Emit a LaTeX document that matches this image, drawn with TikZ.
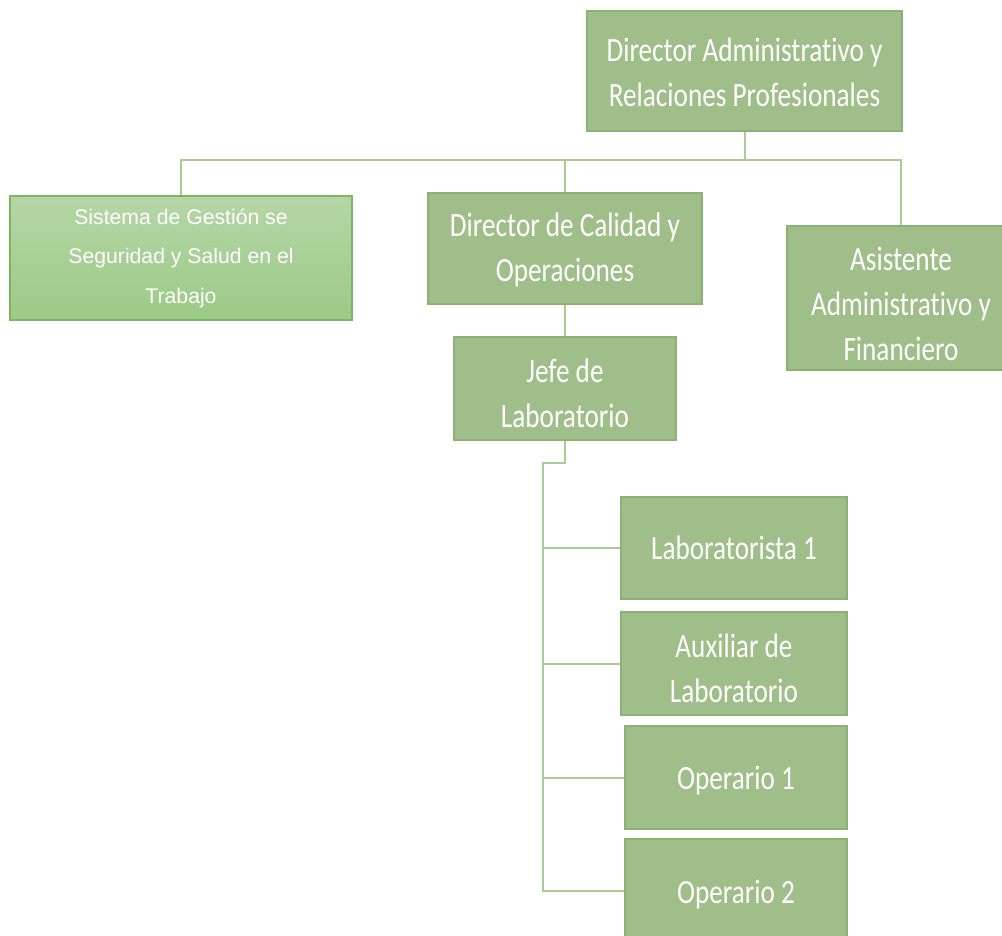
\documentclass[tikz,border=0pt]{standalone}
\usepackage{fontspec}
\newfontfamily\calf[FakeStretch=0.8, RawFeature=-liga]{Carlito}
\newfontfamily\arialf{Liberation Sans}
\definecolor{boxfill}{HTML}{9FBE89}
\definecolor{boxedge}{HTML}{8AB373}
\definecolor{linecol}{HTML}{A9CC95}
\definecolor{gtop}{HTML}{B5D6A7}
\definecolor{gbot}{HTML}{9CCA86}
\definecolor{gedge}{HTML}{7AB65E}
\tikzset{
  orgbox/.style={draw=boxedge, line width=2.5pt, fill=boxfill, inner sep=0pt},
  otext/.style={text=white, align=center, inner sep=0pt,
    font=\calf\fontsize{34}{45}\selectfont},
  gradbox/.style={draw=gedge, line width=1.2pt, top color=gtop, bottom color=gbot,
    text=white, align=center, inner sep=0pt, font=\arialf\fontsize{21.2}{39.5}\selectfont},
  conn/.style={draw=linecol, line width=2pt}
}
\begin{document}
\begin{tikzpicture}[x=1pt,y=-1pt]
\useasboundingbox (0,0) rectangle (1002,936);
\clip (0,0) rectangle (1002,936);
\fill[white] (0,0) rectangle (1002,936);
% boxes
\node[orgbox, minimum width=315pt, minimum height=120pt,
  label={[otext, yshift=-1pt]center:{Director Administrativo y\\Relaciones Profesionales}}] (top) at (744.5,71) {};
\node[gradbox, minimum width=342pt, minimum height=124pt] (sist) at (181,258) {Sistema de Gestión se\\Seguridad y Salud en el\\Trabajo};
\node[orgbox, minimum width=274pt, minimum height=111pt,
  label={[otext, yshift=-1.5pt]center:{Director de Calidad y\\Operaciones}}] (cal) at (565,248.5) {};
\node[orgbox, minimum width=228pt, minimum height=144pt,
  label={[otext, yshift=-6pt]center:{Asistente\\Administrativo y\\Financiero}}] (asist) at (901,298) {};
\node[orgbox, minimum width=222pt, minimum height=103pt,
  label={[otext, yshift=-5pt]center:{Jefe de\\Laboratorio}}] (jefe) at (565,388.5) {};
\node[orgbox, minimum width=226pt, minimum height=102pt,
  label={[otext]center:{Laboratorista 1}}] (lab1) at (734,548) {};
\node[orgbox, minimum width=226pt, minimum height=103pt,
  label={[otext, yshift=-5pt]center:{Auxiliar de\\Laboratorio}}] (aux) at (734,663.5) {};
\node[orgbox, minimum width=222pt, minimum height=103pt,
  label={[otext, yshift=-3pt]center:{Operario 1}}] (op1) at (736,777.5) {};
\node[orgbox, minimum width=222pt, minimum height=104pt,
  label={[otext, yshift=-4pt]center:{Operario 2}}] (op2) at (736,891) {};
% connectors
\coordinate (bus) at (744.5,160);
\coordinate (sp) at (543,463);
\draw[conn] (top.south) -- (bus);
\draw[conn] (sist.north) -- (sist.north |- bus) -- (asist.north |- bus) -- (asist.north);
\draw[conn] (cal.north) -- (cal.north |- bus);
\draw[conn] (cal.south) -- (jefe.north);
\draw[conn] (jefe.south) |- (sp) -- (sp |- op2.west) -- (op2.west);
\draw[conn] (sp |- lab1.west) -- (lab1.west);
\draw[conn] (sp |- aux.west) -- (aux.west);
\draw[conn] (sp |- op1.west) -- (op1.west);
\end{tikzpicture}
\end{document}
